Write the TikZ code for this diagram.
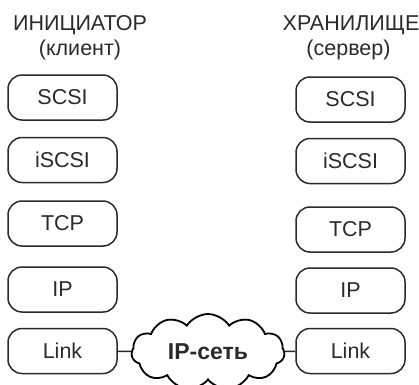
\documentclass[tikz,border=0pt]{standalone}
\usepackage{fontspec}
\setmainfont{Liberation Sans}
\usetikzlibrary{positioning,shapes.symbols}
\definecolor{inkgray}{HTML}{2A2A2A}

\begin{document}
\begin{tikzpicture}[x=1pt,y=-1pt,node distance=63pt,on grid,
    layer/.style={draw=inkgray,line width=1.5pt,rounded corners=14pt,
      minimum width=109pt,minimum height=45pt,text=inkgray,
      font=\fontsize{21.5}{24}\selectfont},
    heading/.style={text=inkgray,inner sep=0pt,font=\fontsize{21.5}{24}\selectfont}]
  \useasboundingbox (0,0) rectangle (419,384);
  % initiator side
  \node[heading] (ini)  at (80,25) {ИНИЦИАТОР};
  \node[heading] (cli)  at (80,50) {(клиент)};
  \node[layer] (scsi_l)  at (62.5,97.5) {SCSI};
  \node[layer] (iscsi_l) [below=62.5pt of scsi_l] {iSCSI};
  \node[layer] (tcp_l)   [below=63.5pt of iscsi_l] {TCP};
  \node[layer] (ip_l)    [below=66pt of tcp_l] {IP};
  \node[layer] (link_l)  [below=61.5pt of ip_l] {Link};
  % storage side
  \node[heading] (sto)  at (351,25) {ХРАНИЛИЩЕ};
  \node[heading] (srv)  at (348.5,50) {(сервер)};
  \node[layer] (scsi_r)  at (350.5,99.5) {SCSI};
  \node[layer] (iscsi_r) [below=61.5pt of scsi_r] {iSCSI};
  \node[layer] (tcp_r)   [below=68.5pt of iscsi_r] {TCP};
  \node[layer] (ip_r)    [below=61pt of tcp_r] {IP};
  \node[layer] (link_r)  [below=60.5pt of ip_r] {Link};
  % network
  \node[cloud,draw=black,line width=1.8pt,cloud puffs=11,cloud puff arc=115,
    cloud ignores aspect,minimum width=153pt,minimum height=76pt,text=inkgray,
    font=\fontsize{23}{26}\selectfont\bfseries] (net) at (208,352) {IP-сеть};
  \draw[inkgray,line width=1.5pt] (link_l) -- (net) -- (link_r);
\end{tikzpicture}
\end{document}
